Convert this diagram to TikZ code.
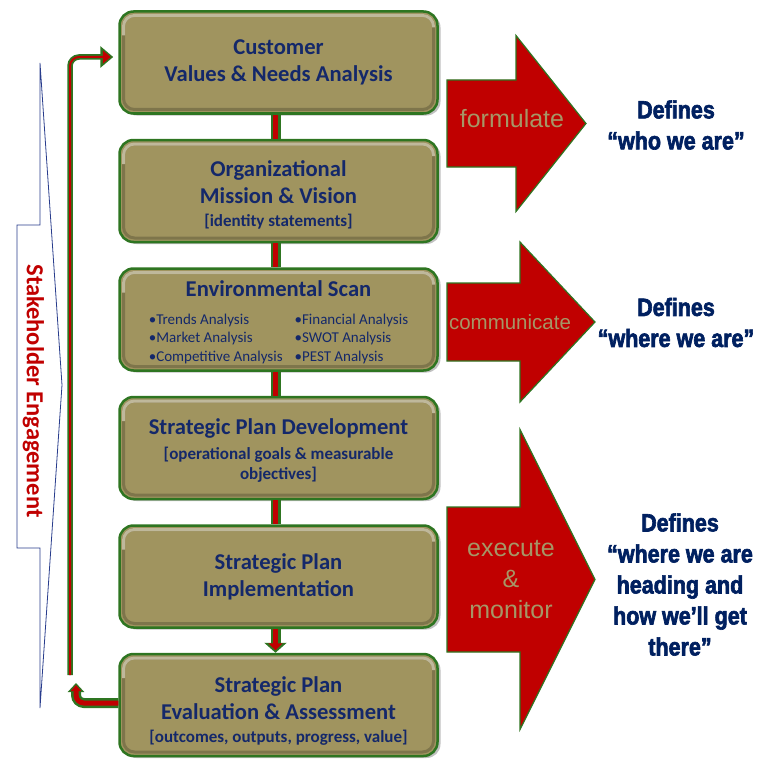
\documentclass[tikz,border=0pt]{standalone}
\usepackage{fontspec}
\setmainfont{Carlito}
\newfontfamily\arialfont{Liberation Sans}
\newfontfamily\heavyfont[FakeStretch=0.86, FakeBold=2.5]{Liberation Sans}
\usetikzlibrary{positioning,shadows,arrows.meta}

\definecolor{boxfill}{RGB}{160,148,95}
\definecolor{boxline}{RGB}{46,117,33}
\definecolor{boxtext}{RGB}{20,40,106}
\definecolor{navy}{RGB}{0,32,96}
\definecolor{arrowred}{RGB}{192,0,0}
\definecolor{tan}{RGB}{166,150,102}
\definecolor{calloutline}{RGB}{40,60,140}

\newcommand\stagetitle{\fontsize{22.6}{27}\selectfont}
\newcommand\stagenote{\fontsize{17}{20}\selectfont}
\newcommand\stagebullet{\mdseries\fontsize{15}{18.5}\selectfont}

\tikzset{
  stage/.style={draw=boxline, line width=2.5pt, fill=boxfill, rounded corners=14pt,
    minimum width=318pt, minimum height=102pt, align=center, text=boxtext,
    font=\bfseries\stagetitle,
    drop shadow={shadow xshift=3pt, shadow yshift=-2pt, opacity=0.35, fill=black!70},
    path picture={
      \draw[boxfill!70!black, line width=3pt, rounded corners=11pt, opacity=0.7]
        ([shift={(4pt,4pt)}]path picture bounding box.south west) rectangle
        ([shift={(-4pt,-4pt)}]path picture bounding box.north east);
      \draw[boxfill!50!white, line width=3pt, rounded corners=11pt, opacity=0.8]
        ([shift={(4pt,-24pt)}]path picture bounding box.north west)
        -- ([shift={(4pt,-4pt)}]path picture bounding box.north west)
        -- ([shift={(-4pt,-4pt)}]path picture bounding box.north east)
        -- ([shift={(-4pt,-16pt)}]path picture bounding box.north east);}},
  linkout/.style={draw=boxline, line width=10pt},
  linkin/.style={draw=arrowred, line width=5pt},
  fbout/.style={draw=boxline, line width=5.5pt, rounded corners=9pt},
  fbin/.style={draw=arrowred, line width=2pt, rounded corners=9pt},
  bigarrow/.style={fill=arrowred, draw=boxline, line width=1.2pt, line join=miter},
  verb/.style={text=tan, font=\arialfont\fontsize{25}{31}\selectfont, align=center},
  defines/.style={text=navy, font=\heavyfont\bfseries\fontsize{25}{31}\selectfont, align=center}
}

\begin{document}
\begin{tikzpicture}[x=1pt, y=1pt]
\useasboundingbox (0,0) rectangle (761,-760);

% stakeholder callout
\draw[calloutline, line width=0.8pt, fill=white] (17,-225) -- (40,-225) -- (40,-63)
  -- (62,-385) -- (40,-708) -- (40,-548) -- (17,-548) -- cycle;
\node[rotate=-90, text=arrowred, font=\bfseries\fontsize{24.5}{25}\selectfont] (stake)
  at (33.5,-391) {Stakeholder Engagement};

% stages
\node[stage] (c1) at (278.5,-62.5) {Customer\\Values \& Needs Analysis};
\node[stage, below=24pt of c1, text height=74pt] (c2) {Organizational\\Mission \& Vision\\[-4pt]\stagenote [identity statements]};
\node[stage, below=24pt of c2, text depth=34pt] (c3) {Environmental Scan\\[1pt]{\stagebullet
  \begin{tabular}[t]{@{}l@{\hspace{12pt}}l@{}}
  •Trends Analysis & •Financial Analysis\\
  •Market Analysis & •SWOT Analysis\\
  •Competitive Analysis & •PEST Analysis
  \end{tabular}}};
\node[stage, below=24pt of c3, text height=66pt] (c4) {Strategic Plan Development\\[-2pt]\stagenote [operational goals \& measurable\\[-7pt]\stagenote objectives]};
\node[stage, below=24pt of c4] (c5) {Strategic Plan\\Implementation};
\node[stage, below=24pt of c5, text height=78pt] (c6) {Strategic Plan\\Evaluation \& Assessment\\[-4pt]\stagenote [outcomes, outputs, progress, value]};

% links between stages
\foreach \a/\b in {c1/c2, c2/c3, c3/c4, c4/c5}
  {\draw[linkout] ([xshift=-3pt]\a.south) -- ([xshift=-3pt]\b.north);
   \draw[linkin] ([xshift=-3pt]\a.south) -- ([xshift=-3pt]\b.north);};
\draw[linkout, -{Triangle[length=10pt, width=22pt]}] ([xshift=-3pt]c5.south) -- ([xshift=-3pt]c6.north);
\draw[linkin, -{Triangle[length=7pt, width=14pt]}, shorten >=2.5pt] ([xshift=-3pt]c5.south) -- ([xshift=-3pt]c6.north);

% feedback loop
\coordinate (fbfoot) at (70,-675);
\coordinate (fbtip) at (76,-683);
\draw[fbout, -{Triangle[length=13pt, width=21pt]}] (fbfoot) |- ([xshift=-5pt, yshift=5.5pt]c1.west);
\draw[fbin, -{Triangle[length=8pt, width=13pt]}, shorten >=2.5pt] (fbfoot) |- ([xshift=-5pt, yshift=5.5pt]c1.west);
\draw[linkout, rounded corners=8pt, -{Triangle[length=9pt, width=16pt]}] ([yshift=2pt]c6.west) -| (fbtip);
\draw[linkin, rounded corners=8pt, -{Triangle[length=6pt, width=10pt]}, shorten >=2pt] ([yshift=2pt]c6.west) -| (fbtip);

% big arrows
\foreach \yt/\yb/\hx/\hh/\tx in {80/167/516/88/586, 283/361/520/80/595, 507/652/520/150/595}
  {\pgfmathsetmacro\ym{(\yt+\yb)/2}
   \draw[bigarrow] (447,-\yt) -- (\hx,-\yt) -- (\hx,-\ym+\hh) -- (\tx,-\ym)
     -- (\hx,-\ym-\hh) -- (\hx,-\yb) -- (447,-\yb) -- cycle;};
\node[verb] (formulate) at (512,-119) {formulate};
\node[verb, font=\arialfont\fontsize{20.5}{25}\selectfont] (communicate) at (510,-322) {communicate};
\node[verb] (execute) at (511,-580) {execute\\\&\\monitor};

% what each step defines
\node[defines] (who) at (676,-125) {Defines\\“who we are”};
\node[defines] (where) at (676,-322.5) {Defines\\“where we are”};
\node[defines] (heading) at (680,-584.5) {Defines\\“where we are\\heading and\\how we’ll get\\there”};
\end{tikzpicture}
\end{document}
